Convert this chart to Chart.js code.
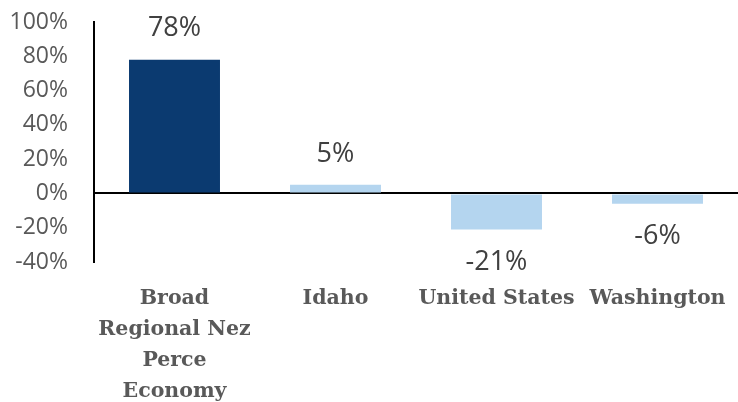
<!DOCTYPE html>
<html>
<head>
<meta charset="utf-8">
<script src="https://cdn.jsdelivr.net/npm/chart.js@4"></script>
<style>
  html, body { margin: 0; padding: 0; background: #fff; }
  #wrap { width: 738px; height: 402px; }
</style>
</head>
<body>
<div id="wrap"><canvas id="growthChart"></canvas></div>
<script>
const regions = [["Broad", "Regional Nez", "Perce", "Economy"], "Idaho", "United States", "Washington"];
const growth = [78, 5, -21, -6];
const barColors = ['#0b3a70', '#b4d5ef', '#b4d5ef', '#b4d5ef'];

// draws the % label above positive bars and below negative ones
const valueLabels = {
    id: 'valueLabels',
    afterDatasetsDraw(chart) {
        const ctx = chart.ctx;
        const meta = chart.getDatasetMeta(0);
        ctx.save();
        ctx.font = '27px "Open Sans", sans-serif';
        ctx.fillStyle = '#404040';
        ctx.textAlign = 'center';
        ctx.textBaseline = 'middle';
        meta.data.forEach(function (bar, i) {
            const v = growth[i];
            const y = v >= 0 ? bar.y - 31 : bar.y + 33;
            ctx.fillText(v + '%', bar.x, y);
        });
        ctx.restore();
    }
};

new Chart("growthChart", {
    type: 'bar',
    data: {
        labels: regions,
        datasets: [{
            data: growth,
            backgroundColor: barColors,
            categoryPercentage: 1,
            barPercentage: 0.565
        }]
    },
    plugins: [valueLabels],
    options: {
        responsive: true,
        maintainAspectRatio: false,
        animation: false,
        layout: {
            padding: { top: 22, right: 0, bottom: 0, left: 4 }
        },
        plugins: {
            legend: { display: false },
            tooltip: { enabled: false }
        },
        scales: {
            x: {
                border: { display: false },
                grid: { display: false },
                afterFit: function (scale) {
                    scale.height = 140;
                    scale.paddingLeft = 0;
                    scale.paddingRight = 0;
                },
                ticks: {
                    autoSkip: false,
                    maxRotation: 0,
                    minRotation: 0,
                    color: '#595959',
                    padding: 13,
                    font: { family: '"DejaVu Serif", serif', size: 20.5, weight: 'bold', lineHeight: 1.52 }
                }
            },
            y: {
                min: -40,
                max: 100,
                border: { display: true, color: '#000', width: 2 },
                afterFit: function (scale) {
                    scale.width = 90;
                    scale.paddingTop = 0;
                    scale.paddingBottom = 0;
                },
                grid: {
                    drawTicks: false,
                    lineWidth: 2,
                    color: function (c) {
                        return c.tick && c.tick.value === 0 ? '#000' : 'rgba(0,0,0,0)';
                    }
                },
                ticks: {
                    stepSize: 20,
                    color: '#595959',
                    padding: 26,
                    font: { family: '"Open Sans", sans-serif', size: 23, lineHeight: 1 },
                    callback: function (v) { return v + '%'; }
                }
            }
        }
    }
});
</script>
</body>
</html>
